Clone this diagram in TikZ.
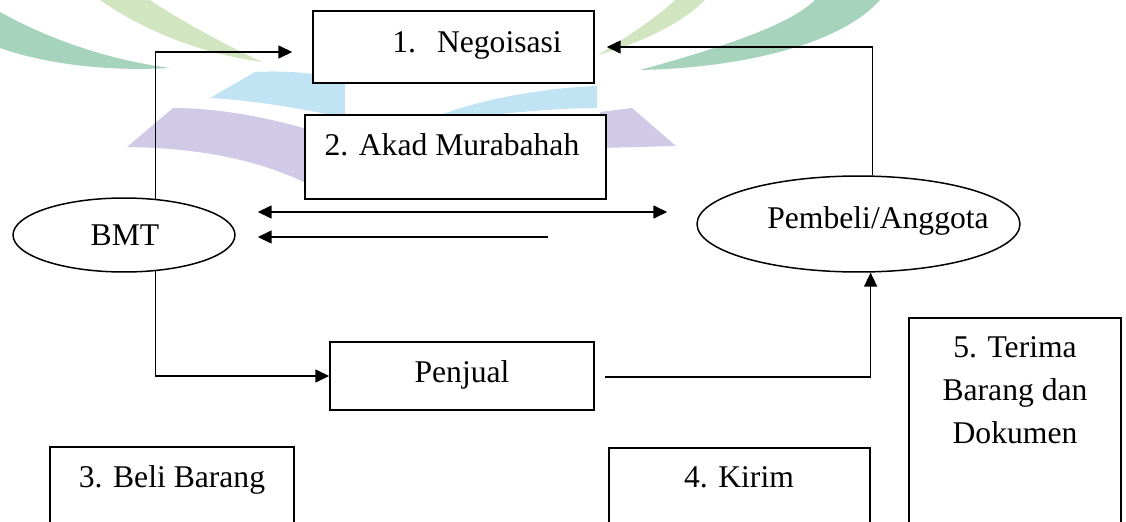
\documentclass[tikz,border=0pt]{standalone}
\usepackage{fontspec}
\setmainfont{Liberation Serif}
\usepackage{xcolor}
\usepackage{tikz}
\usetikzlibrary{shapes.geometric,arrows.meta,positioning,calc}

\definecolor{wmgreen}{RGB}{128,192,160}
\definecolor{wmlime}{RGB}{190,218,165}
\definecolor{wmblue}{RGB}{165,216,240}
\definecolor{wmpurple}{RGB}{188,180,220}

\tikzset{
  box/.style={draw, fill=white, line width=0.85pt, inner sep=0pt},
  oval/.style={draw, ellipse, fill=white, line width=0.85pt, inner sep=0pt},
  txt/.style={anchor=base, inner sep=0pt, font=\fontsize{18}{24.4}\selectfont},
  arr/.style={line width=0.85pt, -{Triangle[length=0.28cm,width=0.26cm]}},
  dblarr/.style={line width=0.85pt, {Triangle[length=0.28cm,width=0.26cm]}-{Triangle[length=0.28cm,width=0.26cm]}}
}

\begin{document}
\begin{tikzpicture}[x=0.02cm, y=-0.02cm]
\useasboundingbox (0,0) rectangle (1126,521);
\clip (0,0) rectangle (1126,521);

% Watermark
\begin{scope}[fill opacity=0.7]
\fill[wmgreen] (0,12) .. controls (50,40) and (110,60) .. (170,68) .. controls (100,72) and (40,62) .. (0,48) -- cycle;
\fill[wmlime] (100,0) .. controls (150,35) and (210,55) .. (262,62) .. controls (220,42) and (180,20) .. (150,0) -- cycle;
\fill[wmgreen] (640,70) .. controls (720,48) and (790,25) .. (815,0) -- (880,0) .. controls (840,45) and (740,68) .. (640,70) -- cycle;
\fill[wmlime] (598,55) .. controls (630,35) and (660,15) .. (675,0) -- (705,0) .. controls (685,20) and (650,40) .. (598,55) -- cycle;
\fill[wmblue] (210,98) -- (255,72) .. controls (290,70) and (320,74) .. (345,80) -- (345,118) .. controls (300,108) and (250,100) .. (210,98) -- cycle;
\fill[wmblue] (440,115) .. controls (480,100) and (540,88) .. (597,86) -- (597,108) .. controls (560,108) and (520,112) .. (490,115) -- cycle;
\fill[wmpurple] (127,147) -- (173,108) .. controls (220,108) and (270,118) .. (310,130) -- (310,185) .. controls (260,160) and (200,148) .. (127,147) -- cycle;
\fill[wmpurple] (600,112) -- (632,108) -- (676,146) -- (600,148) -- cycle;
\end{scope}

% Boxes and ovals
\node[box, minimum width=5.62cm, minimum height=1.44cm] (nego) at (453.5,47) {};
\node[box, minimum width=6.02cm, minimum height=1.68cm] (akad) at (455.5,157) {};
\node[oval, minimum width=4.44cm, minimum height=1.48cm] (bmt) at (124,235) {};
\node[oval, minimum width=6.46cm, minimum height=1.92cm] (pem) at (858.5,224) {};
\node[box, minimum width=5.28cm, minimum height=1.36cm] (penj) at (462,376) {};
\node[box, minimum width=4.24cm, minimum height=4.84cm] (terima) at (1015,439) {};
\node[box, minimum width=5.22cm, minimum height=2.24cm] (kirim) at (739.5,504) {};
\node[box, minimum width=4.88cm, minimum height=2.26cm] (beli) at (172,503.5) {};

% Texts
\node[txt, anchor=base west] (negot) at (392,52) {1.\hspace{0.42cm}Negoisasi};
\node[txt] (akadt) at (452,155) {2. Akad Murabahah};
\node[txt] (bmtt) at (125,245) {BMT};
\node[txt] (pemt) at (878,228) {Pembeli/Anggota};
\node[txt] (penjt) at (462,382) {Penjual};
\node[txt, align=center] (terimat) at (1015,443) {5. Terima\\Barang dan\\Dokumen};
\node[txt] (kirimt) at (739,487) {4. Kirim};
\node[txt] (belit) at (172,487) {3. Beli Barang};

% 1. Negoisasi
\draw[arr] (bmt.49) |- ($(nego.west)+(-20,5)$);
\draw[arr] (pem.74) |- ($(nego.east)+(12,0)$);

% 2. Akad Murabahah
\draw[dblarr] ($(bmt.east)+(22,-23)$) -- ($(pem.west)+(-29,-12)$);
\coordinate (akadret) at (548,237);
\draw[arr] (akadret) -- ($(bmt.east)+(22,2)$);

% 3. Beli Barang
\draw[arr] (bmt.-49) |- (penj.west);

% 4. Kirim, 5. Terima
\draw[arr] ($(penj.east)+(10,1)$) -| (pem.-76);
\end{tikzpicture}
\end{document}
